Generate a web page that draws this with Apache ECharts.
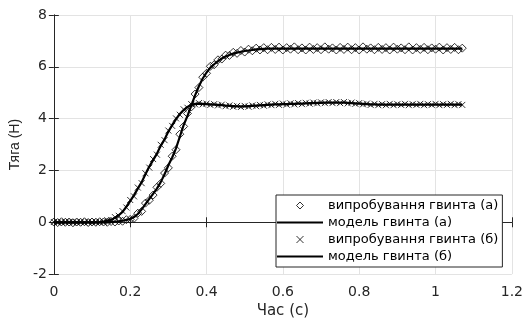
<!DOCTYPE html>
<html>
<head>
<meta charset="utf-8">
<script src="https://cdn.jsdelivr.net/npm/echarts@6/dist/echarts.min.js"></script>
<style>html,body{margin:0;padding:0;background:#fff}#c{width:526px;height:324px}</style>
</head>
<body>
<div id="c"></div>
<script>
// Time samples (s)
var time = [0.00,0.01,0.02,0.03,0.04,0.05,0.06,0.07,0.08,0.09,
0.10,0.11,0.12,0.13,0.14,0.15,0.16,0.17,0.18,0.19,
0.20,0.21,0.22,0.23,0.24,0.25,0.26,0.27,0.28,0.29,
0.30,0.31,0.32,0.33,0.34,0.35,0.36,0.37,0.38,0.39,
0.40,0.41,0.42,0.43,0.44,0.45,0.46,0.47,0.48,0.49,
0.50,0.51,0.52,0.53,0.54,0.55,0.56,0.57,0.58,0.59,
0.60,0.61,0.62,0.63,0.64,0.65,0.66,0.67,0.68,0.69,
0.70,0.71,0.72,0.73,0.74,0.75,0.76,0.77,0.78,0.79,
0.80,0.81,0.82,0.83,0.84,0.85,0.86,0.87,0.88,0.89,
0.90,0.91,0.92,0.93,0.94,0.95,0.96,0.97,0.98,0.99,
1.00,1.01,1.02,1.03,1.04,1.05,1.06,1.07];

// Test of propeller (a) - diamonds
var testA = [0.01,-0.01,0.02,0,0.01,-0.02,0.01,0,0.02,-0.01,
0.01,0,0.02,0.01,0,0.03,0.01,0.05,0.04,0.1,
0.11,0.15,0.35,0.42,0.74,0.85,1.05,1.35,1.5,1.9,
2.1,2.55,2.8,3.4,3.7,4.2,4.45,4.95,5.2,5.6,
5.75,6.02,6.08,6.27,6.3,6.45,6.44,6.56,6.52,6.63,
6.57,6.68,6.62,6.72,6.65,6.74,6.66,6.75,6.67,6.76,
6.65,6.74,6.68,6.77,6.66,6.73,6.65,6.76,6.67,6.74,
6.66,6.77,6.68,6.73,6.65,6.75,6.67,6.76,6.66,6.74,
6.65,6.77,6.68,6.73,6.66,6.75,6.67,6.74,6.65,6.76,
6.68,6.73,6.66,6.77,6.65,6.74,6.67,6.75,6.66,6.73,
6.68,6.76,6.65,6.74,6.67,6.75,6.66,6.72];

// Model of propeller (a)
var modelA = [0,0,0,0,0,0,0,0,0,0,
0,0,0,0,0,0.01,0.02,0.04,0.06,0.09,
0.13,0.2,0.32,0.5,0.7,0.9,1.1,1.3,1.55,1.85,
2.2,2.5,2.85,3.3,3.75,4.1,4.5,4.9,5.25,5.55,
5.78,5.97,6.1,6.22,6.32,6.4,6.46,6.51,6.55,6.58,
6.61,6.63,6.65,6.67,6.68,6.69,6.7,6.7,6.7,6.7,
6.7,6.7,6.7,6.7,6.7,6.7,6.7,6.7,6.7,6.7,
6.7,6.7,6.7,6.7,6.7,6.7,6.7,6.7,6.7,6.7,
6.7,6.7,6.7,6.7,6.7,6.7,6.7,6.7,6.7,6.7,
6.7,6.7,6.7,6.7,6.7,6.7,6.7,6.7,6.7,6.7,
6.7,6.7,6.7,6.7,6.7,6.7,6.7,6.7];

// Test of propeller (b) - crosses
var testB = [0.01,-0.01,0.01,0,0.02,-0.01,0,0.01,-0.01,0.02,
0,0.01,0.02,0.02,0.08,0.09,0.2,0.25,0.43,0.57,
0.86,1.0,1.34,1.51,1.89,2.11,2.44,2.61,2.99,3.17,
3.54,3.72,4.01,4.15,4.36,4.42,4.56,4.55,4.6,4.55,
4.58,4.53,4.56,4.51,4.54,4.48,4.51,4.46,4.49,4.45,
4.49,4.46,4.51,4.48,4.53,4.5,4.55,4.52,4.57,4.53,
4.58,4.54,4.59,4.55,4.6,4.56,4.61,4.58,4.62,4.59,
4.63,4.6,4.64,4.6,4.64,4.6,4.64,4.59,4.62,4.57,
4.6,4.55,4.58,4.53,4.57,4.52,4.56,4.52,4.57,4.52,
4.56,4.53,4.57,4.52,4.56,4.53,4.57,4.52,4.56,4.53,
4.57,4.52,4.56,4.53,4.57,4.52,4.56,4.53];

// Model of propeller (b)
var modelB = [0,0,0,0,0,0,0,0,0,0,
0,0,0,0.03,0.06,0.1,0.17,0.27,0.4,0.6,
0.82,1.05,1.3,1.55,1.85,2.15,2.4,2.65,2.95,3.2,
3.5,3.75,3.98,4.18,4.33,4.45,4.53,4.57,4.58,4.57,
4.56,4.55,4.54,4.53,4.52,4.5,4.49,4.48,4.47,4.47,
4.47,4.48,4.49,4.5,4.51,4.52,4.53,4.54,4.55,4.55,
4.56,4.56,4.57,4.57,4.58,4.58,4.59,4.6,4.6,4.61,
4.61,4.62,4.62,4.62,4.62,4.62,4.62,4.61,4.6,4.59,
4.58,4.57,4.56,4.55,4.55,4.54,4.54,4.54,4.54,4.54,
4.54,4.54,4.54,4.54,4.54,4.54,4.54,4.54,4.54,4.54,
4.54,4.54,4.54,4.54,4.54,4.54,4.54,4.54];

var xTicks = {min: 0, max: 1.2, interval: 0.2};
var yTicks = {min: -2, max: 8, interval: 2};
var names = ['випробування гвинта (а)', 'модель гвинта (а)', 'випробування гвинта (б)', 'модель гвинта (б)'];

function pairs(v) { return time.map(function (t, i) { return [t, v[i]]; }); }

var FONT = 'DejaVu Sans, Liberation Sans, Arial, sans-serif';
var FONT_V = 'Liberation Sans, Arial, sans-serif';
var AX = '#262626';
var crossPath = 'path://M0,0L10,10M10,0L0,10';
var diamondPath = 'path://M5,0L10,5L5,10L0,5Z';
var linePath = 'path://M0,0L46,0L46,2L0,2Z';
var hollow = {color: 'rgba(0,0,0,0)', borderColor: '#000', borderWidth: 1};

var chart = echarts.init(document.getElementById('c'), null, {renderer: 'canvas'});
var baseX = {
  type: 'value', min: xTicks.min, max: xTicks.max, interval: xTicks.interval,
  axisLine: {show: true, lineStyle: {color: AX, width: 1}},
  axisTick: {show: true, inside: true, length: 5, lineStyle: {color: AX}},
  splitLine: {show: false}
};
var baseY = {
  type: 'value', min: yTicks.min, max: yTicks.max, interval: yTicks.interval,
  axisLine: {show: true, lineStyle: {color: AX, width: 1}},
  axisTick: {show: true, inside: true, length: 5, lineStyle: {color: AX}},
  splitLine: {show: false}
};
chart.setOption({
  animation: false,
  backgroundColor: '#fff',
  grid: {left: 52, right: 12, top: 15, bottom: 49, containLabel: false},
  xAxis: [
    Object.assign({}, baseX, {
      position: 'bottom',
      name: 'Час (с)', nameLocation: 'middle', nameGap: 24,
      nameTextStyle: {fontFamily: FONT, fontSize: 15, color: AX},
      axisLabel: {show: true, margin: 11, fontFamily: FONT, fontSize: 14, color: AX},
      splitLine: {show: true, lineStyle: {color: '#e3e3e3', width: 1}}
    }),
    Object.assign({}, baseX, {position: 'top', axisLabel: {show: false}})
  ],
  yAxis: [
    Object.assign({}, baseY, {
      position: 'left',
      name: 'Тяга (Н)', nameLocation: 'middle', nameGap: 30,
      nameTextStyle: {fontFamily: FONT_V, fontSize: 14, color: AX},
      axisLabel: {show: true, margin: 7, fontFamily: FONT, fontSize: 14, color: AX},
      splitLine: {show: true, lineStyle: {color: '#e3e3e3', width: 1}}
    }),
    Object.assign({}, baseY, {position: 'right', axisLabel: {show: false}})
  ],
  legend: {
    orient: 'vertical', left: 276, top: 195,
    selectedMode: false,
    backgroundColor: '#fff',
    borderColor: AX, borderWidth: 1, borderRadius: 0,
    padding: [4, 4, 4, 1],
    itemWidth: 46, itemHeight: 7, itemGap: 4,
    symbolKeepAspect: true,
    textStyle: {fontFamily: FONT, fontSize: 13, lineHeight: 13, color: '#000'},
    data: [
      {name: names[0], icon: diamondPath, itemStyle: hollow},
      {name: names[1], icon: linePath, itemStyle: {color: '#000', borderWidth: 0}},
      {name: names[2], icon: crossPath, itemStyle: hollow},
      {name: names[3], icon: linePath, itemStyle: {color: '#000', borderWidth: 0}}
    ]
  },
  series: [
    {
      name: names[0], type: 'scatter', data: pairs(testA),
      symbol: 'diamond', symbolSize: 8,
      itemStyle: hollow
    },
    {
      name: names[1], type: 'line', data: pairs(modelA),
      symbol: 'none', showSymbol: false, smooth: false,
      lineStyle: {color: '#000', width: 2.2}, itemStyle: {color: '#000'}
    },
    {
      name: names[2], type: 'scatter', data: pairs(testB),
      symbol: crossPath, symbolSize: 6,
      itemStyle: hollow
    },
    {
      name: names[3], type: 'line', data: pairs(modelB),
      symbol: 'none', showSymbol: false, smooth: false,
      lineStyle: {color: '#000', width: 2.2}, itemStyle: {color: '#000'}
    }
  ]
});
</script>
</body>
</html>
